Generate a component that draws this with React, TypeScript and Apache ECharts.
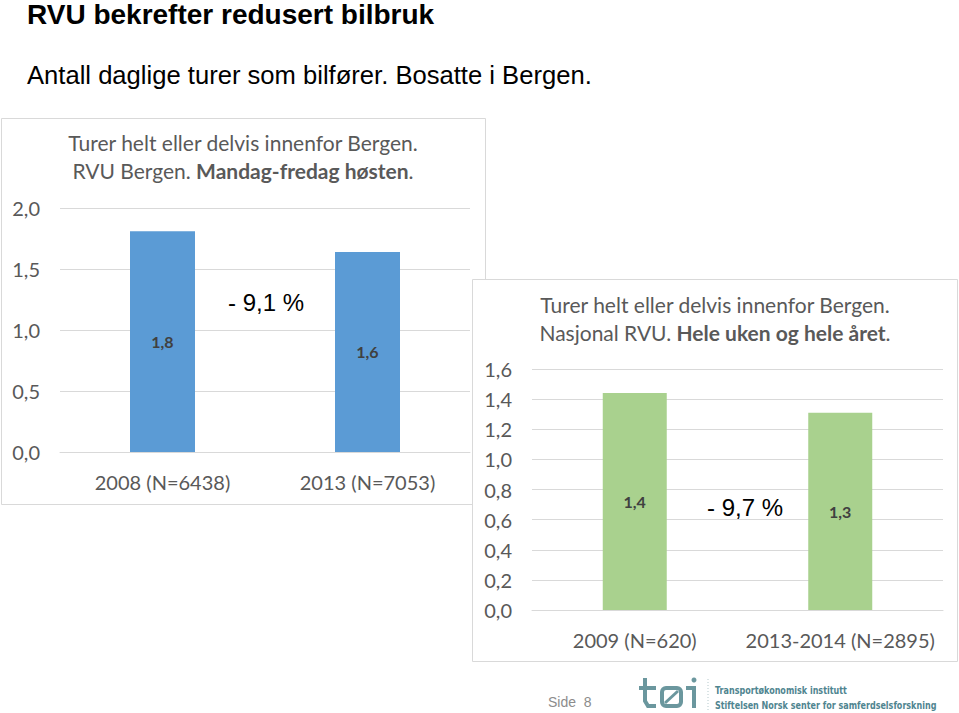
import React, { useEffect, useRef } from "react";
import * as echarts from "echarts";

const cats1 = ["2008 (N=6438)", "2013 (N=7053)"];
const vals1 = [1.81, 1.64];
const cats2 = ["2009 (N=620)", "2013-2014 (N=2895)"];
const vals2 = [1.44, 1.31];
const change1 = "- 9,1 %";
const change2 = "- 9,7 %";

const FONT = "Lato";
const GRAY = "#595959";
const fmt = (v: number) => v.toFixed(1).replace(".", ",");

export default function App() {
  const ref = useRef<HTMLDivElement>(null);
  useEffect(() => {
    const chart = echarts.init(ref.current!, undefined, { renderer: "svg" });
    const logoColor = "#6b979e";
    const axisY = (max: number, interval: number, idx: number) => ({
      type: "value",
      gridIndex: idx,
      min: 0,
      max,
      interval,
      axisLine: { show: false },
      axisTick: { show: false },
      splitLine: { lineStyle: { color: "#d9d9d9", width: 1 } },
      axisLabel: {
        color: GRAY,
        fontFamily: FONT,
        fontSize: 20,
        margin: 20,
        formatter: (v: number) => fmt(v),
      },
    });
    const axisX = (data: string[], idx: number) => ({
      type: "category",
      gridIndex: idx,
      data,
      axisLine: { show: true, lineStyle: { color: "#d9d9d9" } },
      axisTick: { show: false },
      axisLabel: { color: GRAY, fontFamily: FONT, fontSize: 20, margin: 20, interval: 0 },
    });
    const rich = {
      n: { fontFamily: FONT, fontSize: 21, color: GRAY, fontWeight: "normal", lineHeight: 28 },
      b: { fontFamily: FONT, fontSize: 21, color: GRAY, fontWeight: "bold", lineHeight: 28 },
    };
    const label = {
      show: true,
      position: "inside",
      color: "#404040",
      fontFamily: FONT,
      fontWeight: "bold",
      fontSize: 16,
      formatter: (p: any) => fmt(p.value),
    };
    chart.setOption({
      animation: false,
      backgroundColor: "#ffffff",
      title: [
        {
          text: "{n|Turer helt eller delvis innenfor Bergen.}\n{n|RVU Bergen. }{b|Mandag-fredag høsten}{n|.}",
          left: 238,
          top: 123,
          textAlign: "center",
          textStyle: { fontWeight: "normal", rich },
        },
        {
          text: "{n|Turer helt eller delvis innenfor Bergen.}\n{n|Nasjonal RVU. }{b|Hele uken og hele året}{n|.}",
          left: 710,
          top: 285,
          textAlign: "center",
          textStyle: { fontWeight: "normal", rich },
        },
      ],
      grid: [
        { left: 60, top: 208, width: 410, height: 244 },
        { left: 532, top: 369, width: 411, height: 241 },
      ],
      xAxis: [axisX(cats1, 0), axisX(cats2, 1)],
      yAxis: [axisY(2, 0.5, 0), axisY(1.6, 0.2, 1)],
      series: [
        {
          type: "bar",
          xAxisIndex: 0,
          yAxisIndex: 0,
          data: vals1,
          barWidth: 65,
          itemStyle: { color: "#5b9bd5" },
          label,
        },
        {
          type: "bar",
          xAxisIndex: 1,
          yAxisIndex: 1,
          data: vals2,
          barWidth: 64,
          itemStyle: { color: "#a9d18e" },
          label,
        },
      ],
      graphic: [
        {
          type: "rect",
          z: -10,
          shape: { x: 1.5, y: 118.5, width: 484, height: 386 },
          style: { fill: "#ffffff", stroke: "#d9d9d9", lineWidth: 1 },
        },
        {
          type: "rect",
          z: -9,
          shape: { x: 472.5, y: 279.5, width: 485, height: 382 },
          style: { fill: "#ffffff", stroke: "#d9d9d9", lineWidth: 1 },
        },
        {
          type: "text",
          x: 27,
          y: 14,
          style: {
            text: "RVU bekrefter redusert bilbruk",
            font: "bold 28px 'Liberation Sans', Arial",
            fill: "#000000",
            textVerticalAlign: "middle",
          },
        },
        {
          type: "text",
          x: 27,
          y: 75,
          style: {
            text: "Antall daglige turer som bilfører. Bosatte i Bergen.",
            font: "25.6px 'Liberation Sans', Arial",
            fill: "#000000",
            textVerticalAlign: "middle",
          },
        },
        {
          type: "text",
          x: 228,
          y: 302,
          z: 10,
          style: {
            text: change1,
            font: "24px 'Liberation Sans', Arial",
            fill: "#000000",
            textVerticalAlign: "middle",
          },
        },
        {
          type: "text",
          x: 707,
          y: 507,
          z: 10,
          style: {
            text: change2,
            font: "24px 'Liberation Sans', Arial",
            fill: "#000000",
            textVerticalAlign: "middle",
          },
        },
        {
          type: "text",
          x: 548,
          y: 702,
          style: {
            text: "Side  8",
            font: "14px 'Liberation Sans', Arial",
            fill: "#8c8c8c",
            textVerticalAlign: "middle",
          },
        },
        // logo "tøi"
        {
          type: "polyline",
          shape: { points: [[645, 678], [645, 701], [648, 706], [656, 706]] },
          style: { stroke: logoColor, lineWidth: 4, fill: "none" },
        },
        {
          type: "line",
          shape: { x1: 639, y1: 688, x2: 656, y2: 688 },
          style: { stroke: logoColor, lineWidth: 4 },
        },
        {
          type: "rect",
          shape: { x: 662, y: 688, width: 19, height: 18, r: 4 },
          style: { stroke: logoColor, lineWidth: 4, fill: "none" },
        },
        {
          type: "line",
          shape: { x1: 665, y1: 703, x2: 678, y2: 691 },
          style: { stroke: logoColor, lineWidth: 3 },
        },
        {
          type: "polyline",
          shape: { points: [[686, 688], [694, 688], [694, 708]] },
          style: { stroke: logoColor, lineWidth: 4, fill: "none" },
        },
        {
          type: "circle",
          shape: { cx: 694, cy: 680, r: 2.5 },
          style: { fill: logoColor },
        },
        {
          type: "line",
          shape: { x1: 708, y1: 679, x2: 708, y2: 711 },
          style: { stroke: "#b5c9cc", lineWidth: 1, lineDash: [1, 2] },
        },
        {
          type: "text",
          x: 715,
          y: 690,
          scaleX: 0.73,
          style: {
            x: 0,
            y: 0,
            text: "Transportøkonomisk institutt",
            font: "bold 11px 'DejaVu Sans'",
            fill: "#4f8590",
            textVerticalAlign: "middle",
          },
        },
        {
          type: "text",
          x: 715,
          y: 705,
          scaleX: 0.73,
          style: {
            x: 0,
            y: 0,
            text: "Stiftelsen Norsk senter for samferdselsforskning",
            font: "bold 11px 'DejaVu Sans'",
            fill: "#4f8590",
            textVerticalAlign: "middle",
          },
        },
      ],
    });
    return () => chart.dispose();
  }, []);
  return (
    <div
      ref={ref}
      style={{ position: "fixed", left: 0, top: 0, width: 959, height: 713 }}
    />
  );
}
